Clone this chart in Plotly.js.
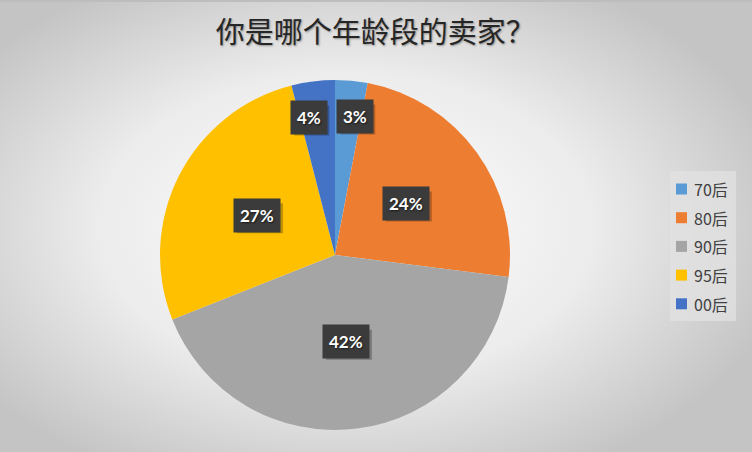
<!DOCTYPE html>
<html>
<head>
<meta charset="utf-8">
<script src="https://cdn.plot.ly/plotly-3.0.1.min.js"></script>
<style>
    html, body { margin: 0; padding: 0; }
    #chart {
        width: 752px;
        height: 452px;
        background: radial-gradient(ellipse 60% 62% at 46% 50%, #ffffff 0%, #ececec 55%, #c4c4c4 100%);
    }
</style>
</head>
<body>
<div id="chart"></div>
<script>
const labels = ["70后", "80后", "90后", "95后", "00后"];
const shares = [3, 24, 42, 27, 4];
const colors = ["#5B9BD5", "#ED7D31", "#A5A5A5", "#FFC000", "#4472C4"];

const W = 752, H = 452;
const cx = 335, cy = 255, R = 175;

const shapes = [{
    type: "line",
    xref: "paper", yref: "paper",
    x0: 0, x1: 1, y0: 1 - 1 / H, y1: 1 - 1 / H,
    line: { color: "#bdbdbd", width: 2 }
}];
const annotations = [];

// label boxes, placed like Excel does: middle of each slice,
// small slices pushed outward and spread apart
const total = shares.reduce((a, b) => a + b, 0);
let acc = 0;
shares.forEach(v => {
    let mid = (acc + v / 2) / total * 2 * Math.PI;
    acc += v;
    let f = 0.5;
    if (v / total < 0.05) {
        f = 0.8;
        let m = mid > Math.PI ? mid - 2 * Math.PI : mid;
        mid = m * 1.5;
    }
    const px = cx + f * R * Math.sin(mid);
    const py = cy - f * R * Math.cos(mid);
    const pct = String(Math.round(v / total * 100));

    // drop shadow of the box
    const bw = 24 + 11 * pct.length, bh = 30;
    shapes.push({
        type: "rect",
        xref: "paper", yref: "paper",
        x0: (px - bw / 2 + 3) / W, x1: (px + bw / 2 + 3) / W,
        y0: 1 - (py + bh / 2 + 3) / H, y1: 1 - (py - bh / 2 + 3) / H,
        fillcolor: "rgba(0,0,0,0.25)",
        line: { width: 0 }
    });
    annotations.push({
        x: px / W,
        y: 1 - py / H,
        xref: "paper",
        yref: "paper",
        xanchor: "center",
        yanchor: "middle",
        text: "<b>" + pct + "%</b>",
        showarrow: false,
        borderpad: 6,
        bgcolor: "#3b3b3b",
        font: {
            family: "Lato, 'Open Sans', sans-serif",
            size: 17,
            color: "#ffffff",
            shadow: "1px 1px 2px rgba(0,0,0,0.6)"
        }
    });
});

// legend drawn by hand so the row spacing matches
shapes.push({
    type: "rect",
    xref: "paper", yref: "paper",
    x0: 670 / W, x1: 736 / W,
    y0: 1 - 321 / H, y1: 1 - 171 / H,
    fillcolor: "rgba(226,226,226,0.75)",
    line: { width: 0 }
});
labels.forEach((lab, i) => {
    const yc = 189 + i * 28.7;
    shapes.push({
        type: "rect",
        xref: "paper", yref: "paper",
        x0: 676 / W, x1: 687 / W,
        y0: 1 - (yc + 5.5) / H, y1: 1 - (yc - 5.5) / H,
        fillcolor: colors[i],
        line: { width: 0 }
    });
    annotations.push({
        x: 692 / W,
        y: 1 - yc / H,
        xref: "paper", yref: "paper",
        xanchor: "left", yanchor: "middle",
        text: lab,
        showarrow: false,
        font: { family: "'Noto Sans CJK SC', sans-serif", size: 16, color: "#404040" }
    });
});

const trace = {
    type: "pie",
    labels: labels,
    values: shares,
    sort: false,
    direction: "clockwise",
    rotation: 0,
    textinfo: "none",
    hoverinfo: "label+percent",
    marker: {
        colors: colors,
        line: { width: 0 }
    },
    domain: {
        x: [(cx - R) / W, (cx + R) / W],
        y: [1 - (cy + R) / H, 1 - (cy - R) / H]
    }
};

const layout = {
    width: W,
    height: H,
    margin: { l: 0, r: 0, t: 0, b: 0 },
    paper_bgcolor: "rgba(0,0,0,0)",
    plot_bgcolor: "rgba(0,0,0,0)",
    title: {
        text: "你是哪个年龄段的卖家？",
        x: 0.499,
        xanchor: "center",
        y: 1 - 33 / H,
        yanchor: "middle",
        font: {
            family: "'Noto Sans CJK SC', sans-serif",
            size: 29,
            color: "#262626",
            shadow: "1px 1px 2px rgba(0,0,0,0.35)"
        }
    },
    showlegend: false,
    shapes: shapes,
    annotations: annotations
};

Plotly.newPlot("chart", [trace], layout, { displayModeBar: false, staticPlot: true });
</script>
</body>
</html>
